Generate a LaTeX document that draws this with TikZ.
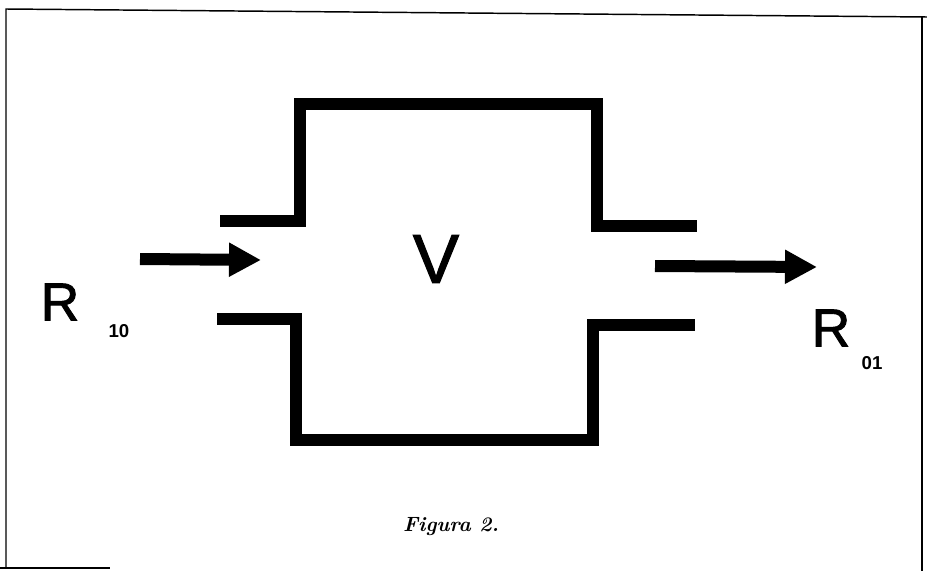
\documentclass[tikz,border=0pt]{standalone}
\usepackage{fontspec}
\newfontfamily\sansf[FakeBold=1.6]{Liberation Sans}
\newfontfamily\sansb{Liberation Sans}
\usetikzlibrary{arrows.meta}
\begin{document}
\begin{tikzpicture}[x=0.75pt,y=-0.75pt,
  frame/.style={line width=1.1pt},
  wall/.style={line width=9pt, line join=miter, line cap=butt},
  flow/.style={line width=9pt, -{Triangle[length=24pt,width=24pt]}},
  big/.style={inner sep=0pt, font=\sansf\fontsize{40}{40}\selectfont},
  sub/.style={inner sep=0pt, font=\sansb\bfseries\fontsize{14}{14}\selectfont}]
\useasboundingbox (0,0) rectangle (927,571);
% frame
\draw[frame] (6,568) -- (6,9) -- (927,17);
\draw[frame] (922,17) -- (922,571);
\draw[frame] (0,568) -- (110,568);
% walls
\draw[wall] (220,221) -- (300,221) -- (300,104) -- (597,104) -- (597,226) -- (697,226);
\draw[wall] (217,319) -- (296,319) -- (296,440) -- (593,440) -- (593,325) -- (695,325);
% arrows
\coordinate (inA) at (140,259);
\coordinate (inB) at (261,260);
\coordinate (outA) at (655,266);
\coordinate (outB) at (817,267);
\draw[flow] (inA) -- (inB);
\draw[flow] (outA) -- (outB);
% labels
\node[inner sep=0pt, font=\sansf\fontsize{52}{52}\selectfont] (V) at (436,259) {V};
\node[big] (R1) at (60,302) {R};
\node[sub] (s1) at (119,331) {10};
\node[big] (R2) at (831,328) {R};
\node[sub] (s2) at (872,363) {01};
\node[inner sep=0pt, font=\bfseries\itshape\fontsize{15.5}{15.5}\selectfont] (cap) at (451,527) {Figura 2.};
\end{tikzpicture}
\end{document}
